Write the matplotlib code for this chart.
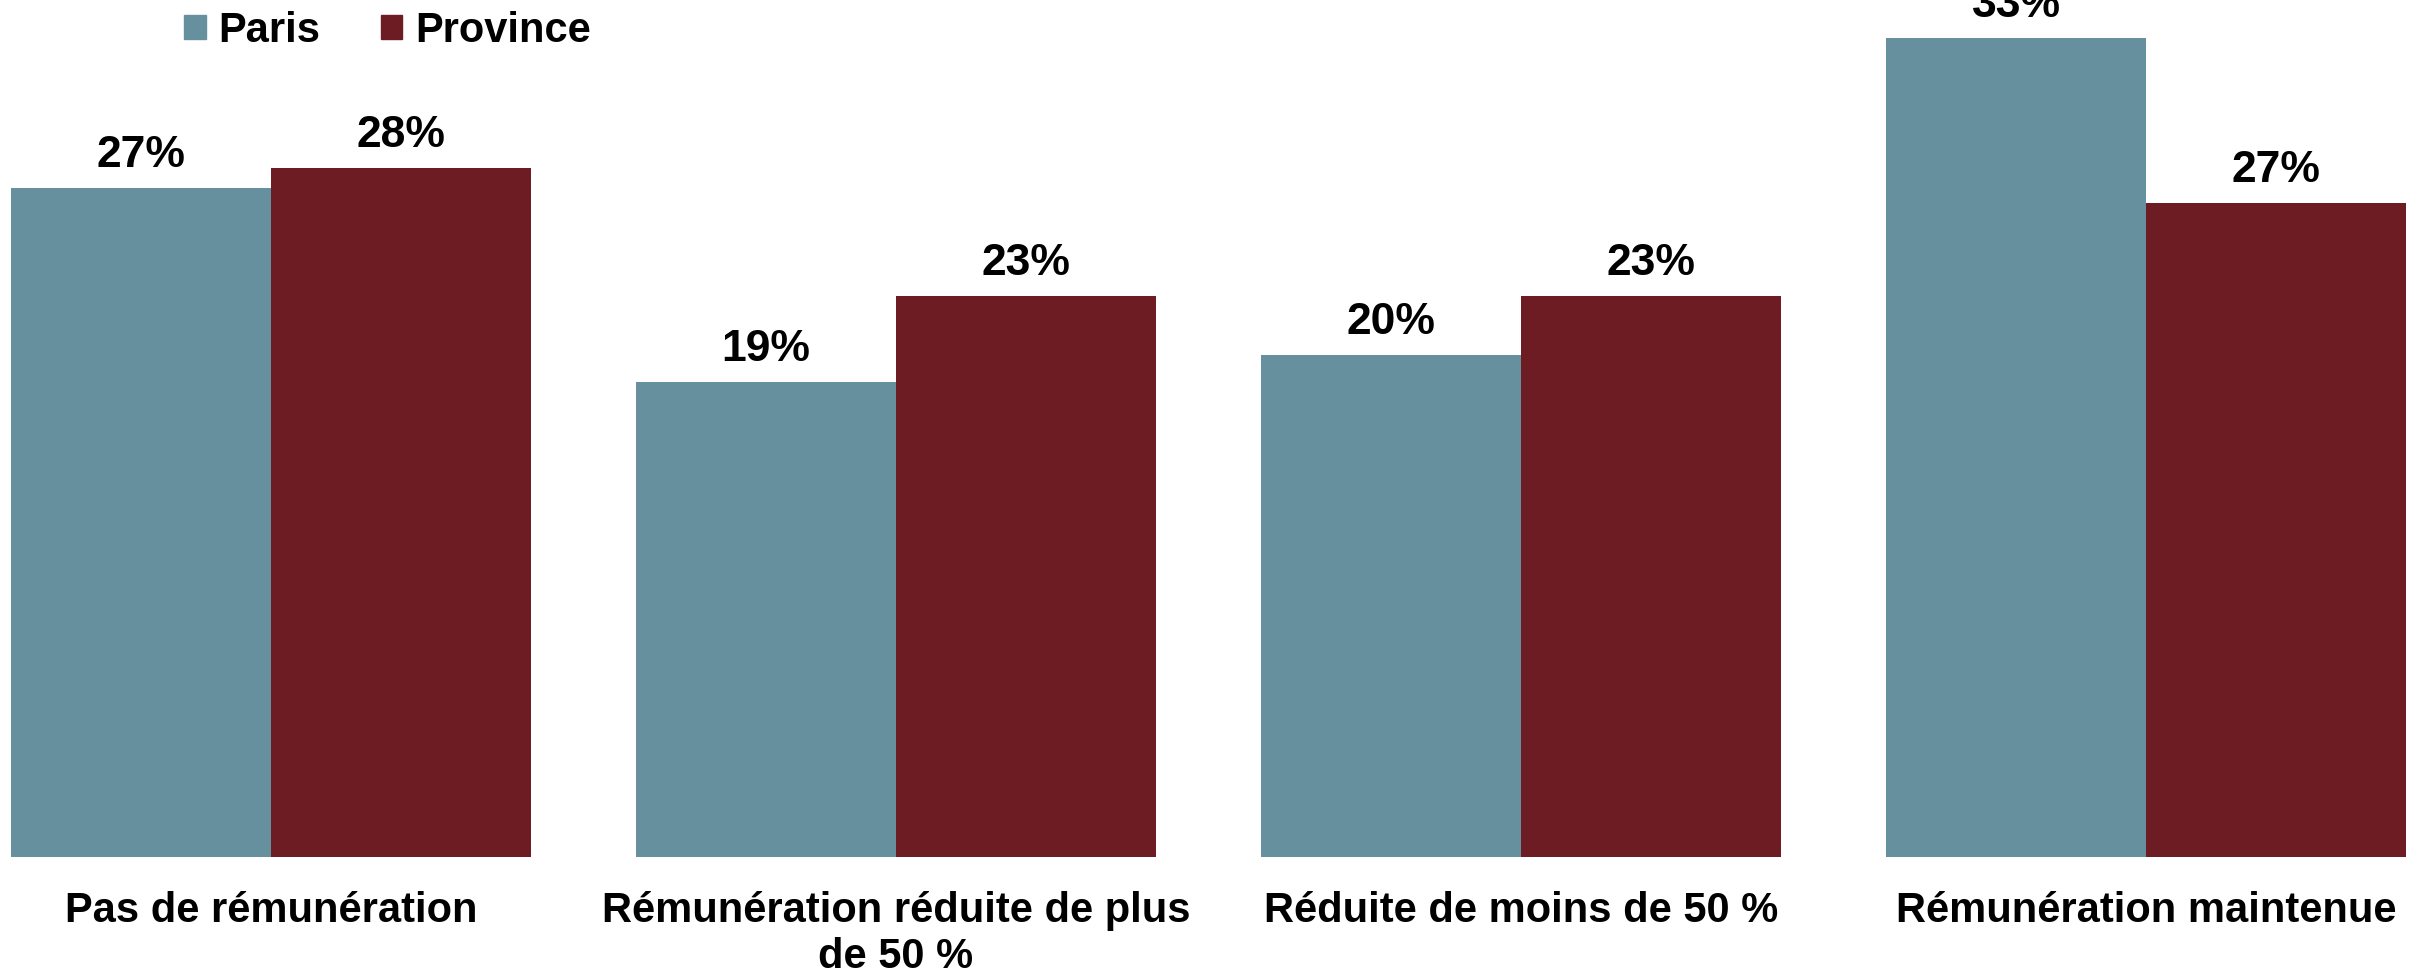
import matplotlib
matplotlib.use("Agg")
import matplotlib.pyplot as plt
import matplotlib.patches as mpatches
import numpy as np

# data (percent)
categories = ["Pas de rémunération",
              "Rémunération réduite de plus\nde 50 %",
              "Réduite de moins de 50 %",
              "Rémunération maintenue"]
paris = [27.2, 19.3, 20.4, 33.3]
province = [28.0, 22.8, 22.8, 26.6]
series_names = ["Paris", "Province"]

PARIS_COL = "#67909e"
PROV_COL = "#6c1c22"

plt.rcParams['font.family'] = ['Liberation Sans', 'DejaVu Sans']

fig = plt.figure(figsize=(24.30, 9.76), dpi=100)
ax = fig.add_axes([0, 0.1219, 1, 0.8781])

x = np.arange(len(categories))
w = 0.416
b1 = ax.bar(x - w / 2, paris, w, color=PARIS_COL)
b2 = ax.bar(x + w / 2, province, w, color=PROV_COL)

# value labels on top of each bar (the 33% one runs off the top, as in the source)
for bars, vals in ((b1, paris), (b2, province)):
    for rect, v in zip(bars, vals):
        ax.annotate(f"{v:.0f}%", (rect.get_x() + rect.get_width() / 2, rect.get_height()),
                    xytext=(0, 15), textcoords="offset points",
                    ha="center", va="baseline", fontsize=32, fontweight="bold",
                    annotation_clip=False)

ax.set_xlim(-0.4336, 3.4544)
ax.set_ylim(0, 34.84)
ax.set_xticks(x)
ax.set_xticklabels(categories, fontsize=30, fontweight="bold", linespacing=1.19)
ax.tick_params(axis="x", length=0, pad=24.5)
ax.set_yticks([])
for s in ax.spines.values():
    s.set_visible(False)

handles = [mpatches.Patch(color=PARIS_COL), mpatches.Patch(color=PROV_COL)]
fig.legend(handles, series_names, loc="upper left",
           bbox_to_anchor=(184 / 2430, 1 - 11 / 976), ncol=2, frameon=False,
           prop={"size": 30, "weight": "bold"}, handlelength=0.52, handleheight=0.52,
           handletextpad=0.3, columnspacing=1.45, borderpad=0, borderaxespad=0)

fig.savefig("out.png", dpi=100)
